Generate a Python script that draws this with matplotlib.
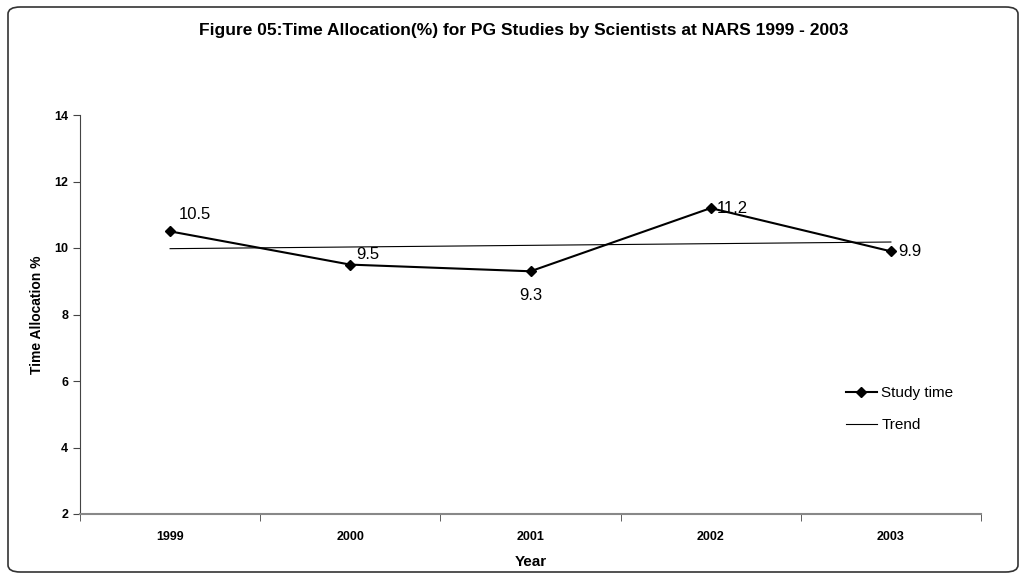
import numpy as np
import matplotlib
matplotlib.use("Agg")
import matplotlib.pyplot as plt
from matplotlib.patches import FancyBboxPatch

plt.rcParams['font.family'] = ['Liberation Sans', 'DejaVu Sans']

years = ['1999', '2000', '2001', '2002', '2003']
study_time = [10.5, 9.5, 9.3, 11.2, 9.9]
# label offsets in points (dx, dy) and alignment
label_pos = [((6, 7), 'left', 'bottom'),
             ((4, 2), 'left', 'bottom'),
             ((0, -12), 'center', 'top'),
             ((4, 0), 'left', 'center'),
             ((5, 0), 'left', 'center')]

fig = plt.figure(figsize=(10.26, 5.79), dpi=100)
ax = fig.add_axes([80 / 1026, 1 - 514 / 579, 901 / 1026, 399 / 579])

x = np.arange(len(years))
ax.plot(x, study_time, color='black', lw=1.5, marker='D', ms=5, label='Study time', zorder=3)

# linear trend (least squares)
k, b = np.polyfit(x, study_time, 1)
ax.plot(x, k * x + b, color='black', lw=0.8, label='Trend', zorder=2)

for xi, v, ((dx, dy), ha, va) in zip(x, study_time, label_pos):
    ax.annotate(str(v), (xi, v), xytext=(dx, dy), textcoords='offset points',
                ha=ha, va=va, fontsize=12)

ax.set_xlim(-0.5, len(years) - 0.5)
ax.set_ylim(2, 14)
ax.set_yticks(range(2, 15, 2))
ax.set_xticks(x)
ax.set_xticklabels(years, fontweight='bold', fontsize=9)
ax.set_xticks(np.arange(-0.5, len(years), 1), minor=True)
ax.tick_params(axis='x', which='major', length=0, pad=12)
ax.tick_params(axis='x', which='minor', length=5, direction='out', color='#444444')
ax.tick_params(axis='y', length=5, direction='out', color='#444444', labelsize=9)
for t in ax.get_yticklabels():
    t.set_fontweight('bold')

ax.spines['top'].set_visible(False)
ax.spines['right'].set_visible(False)
ax.spines['left'].set_color('#444444')
ax.spines['bottom'].set_color('#888888')
ax.spines['bottom'].set_linewidth(1.5)

ax.set_xlabel('Year', fontweight='bold', fontsize=11, labelpad=9)
ax.set_ylabel('Time Allocation %', fontweight='bold', fontsize=10, labelpad=7)

ax.legend(loc='upper left', bbox_to_anchor=(0.835, 0.355), frameon=False,
          fontsize=11, handlelength=2.0, labelspacing=1.2, handletextpad=0.3)

fig.text(0.51, 1 - 30 / 579, 'Figure 05:Time Allocation(%) for PG Studies by Scientists at NARS 1999 - 2003',
         ha='center', va='center', fontweight='bold', fontsize=12.5)

border = FancyBboxPatch((8 / 1026, 7 / 579), 1010 / 1026, 565 / 579,
                        boxstyle='round,pad=0,rounding_size=0.012',
                        transform=fig.transFigure, fill=False,
                        edgecolor='#333333', lw=1.2)
fig.patches.append(border)

fig.savefig('out.png', dpi=100)
